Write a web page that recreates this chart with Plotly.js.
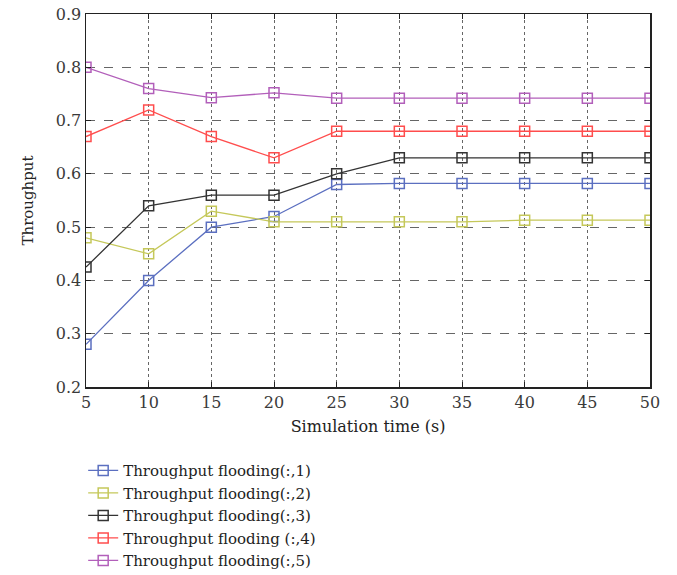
<!DOCTYPE html>
<html><head><meta charset="utf-8">
<script src="https://cdn.plot.ly/plotly-3.0.1.min.js"></script>
<style>html,body{margin:0;padding:0;background:#fff;}#chart{width:677px;height:575px;}</style>
</head><body><div id="chart"></div>
<script>
const simTime = [5, 10, 15, 20, 25, 30, 35, 40, 45, 50];
const flood1 = [0.28, 0.40, 0.50, 0.52, 0.58, 0.582, 0.582, 0.582, 0.582, 0.582];
const flood2 = [0.48, 0.45, 0.53, 0.51, 0.51, 0.51, 0.51, 0.513, 0.513, 0.513];
const flood3 = [0.425, 0.54, 0.56, 0.56, 0.60, 0.63, 0.63, 0.63, 0.63, 0.63];
const flood4 = [0.67, 0.72, 0.67, 0.63, 0.68, 0.68, 0.68, 0.68, 0.68, 0.68];
const flood5 = [0.80, 0.76, 0.743, 0.752, 0.742, 0.742, 0.742, 0.742, 0.742, 0.742];
const names = ['Throughput flooding(:,1)', 'Throughput flooding(:,2)', 'Throughput flooding(:,3)', 'Throughput flooding (:,4)', 'Throughput flooding(:,5)'];
const colors = ['#5b6fc0', '#c5c85a', '#333333', '#ff4d4d', '#b25fba'];
const series = [flood1, flood2, flood3, flood4, flood5];

const traces = series.map((ys, i) => ({
  x: simTime, y: ys, name: names[i], type: 'scatter', mode: 'lines+markers',
  line: {color: colors[i], width: 1.3},
  marker: {symbol: 'square-open', size: 10, color: colors[i], line: {width: 1.5, color: colors[i]}}
}));

const fam = '"DejaVu Serif", "Liberation Serif", serif';
const layout = {
  width: 677, height: 575,
  margin: {l: 86, r: 27, t: 14, b: 188, autoexpand: false},
  paper_bgcolor: '#fff', plot_bgcolor: '#fff',
  font: {family: fam, size: 16, color: '#333'},
  showlegend: true,
  legend: {x: -0.005, y: -0.18, xanchor: 'left', yanchor: 'top',
    font: {family: fam, size: 15, color: '#222'}, tracegroupgap: 0, itemwidth: 30},
  xaxis: {
    range: [5, 50], tickvals: simTime, ticktext: simTime.map(String),
    showline: true, linecolor: '#222', linewidth: 1.5, mirror: 'ticks',
    ticks: 'inside', ticklen: 5, tickcolor: '#222',
    tickfont: {family: fam, size: 16, color: '#3a3a3a'},
    showgrid: true, gridcolor: '#666', griddash: 'dot', gridwidth: 1,
    zeroline: false,
    title: {text: 'Simulation time (s)', font: {family: fam, size: 16, color: '#222'}, standoff: 10}
  },
  yaxis: {
    range: [0.2, 0.9], tickvals: [0.2, 0.3, 0.4, 0.5, 0.6, 0.7, 0.8, 0.9], ticktext: ['0.2','0.3','0.4','0.5','0.6','0.7','0.8','0.9'],
    showline: true, linecolor: '#222', linewidth: 1.5, mirror: 'ticks',
    ticks: 'inside', ticklen: 5, tickcolor: '#222',
    tickfont: {family: fam, size: 16, color: '#3a3a3a'},
    showgrid: true, gridcolor: '#666', griddash: 'dash', gridwidth: 1,
    zeroline: false,
    title: {text: 'Throughput', font: {family: fam, size: 15, color: '#222'}, standoff: 18}
  }
};
Plotly.newPlot('chart', traces, layout, {displayModeBar: false, staticPlot: true});
</script></body></html>
